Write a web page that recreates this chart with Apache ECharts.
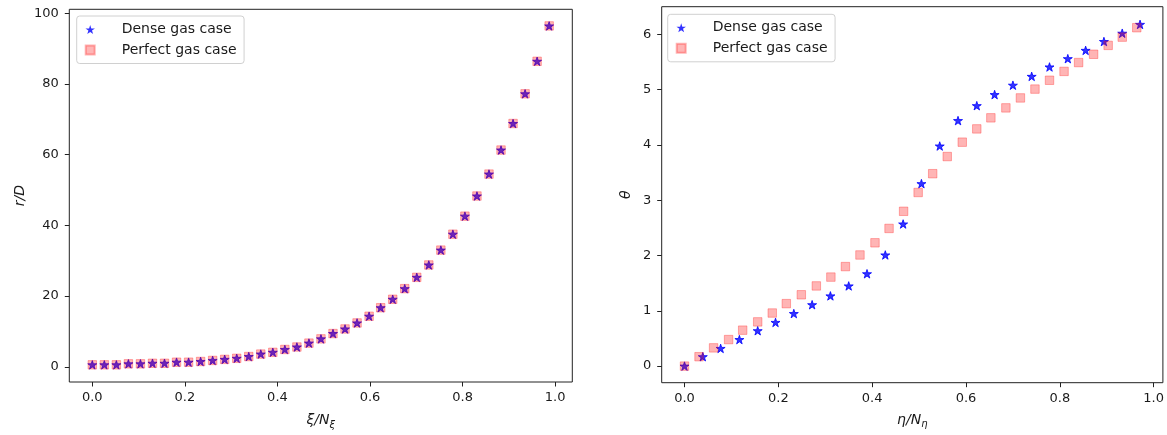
<!DOCTYPE html>
<html>
<head>
<meta charset="utf-8">
<script src="https://cdn.jsdelivr.net/npm/echarts@6/dist/echarts.min.js"></script>
<style>
  html, body { margin: 0; padding: 0; background: #fff; }
  #chart { width: 1167px; height: 435px; }
</style>
</head>
<body>
<div id="chart"></div>
<script>
// Radial coordinate along the grid index (left panel)
const xiValues = [0.000, 0.026, 0.052, 0.078, 0.104, 0.130, 0.156, 0.182, 0.208, 0.234,
  0.260, 0.286, 0.312, 0.338, 0.364, 0.390, 0.416, 0.442, 0.468, 0.494,
  0.520, 0.546, 0.572, 0.598, 0.623, 0.649, 0.675, 0.701, 0.727, 0.753,
  0.779, 0.805, 0.831, 0.857, 0.883, 0.909, 0.935, 0.961, 0.987];
const rDense = [0.56, 0.56, 0.56, 0.84, 0.84, 1.0, 1.0, 1.3, 1.3, 1.5,
  1.8, 2.1, 2.4, 2.9, 3.6, 4.1, 4.9, 5.6, 6.7, 7.9,
  9.4, 10.7, 12.4, 14.3, 16.7, 19.1, 22.1, 25.3, 28.8, 33.0,
  37.5, 42.6, 48.3, 54.5, 61.3, 68.8, 77.2, 86.4, 96.4];
const rPerfect = [0.56, 0.56, 0.56, 0.84, 0.84, 1.0, 1.0, 1.3, 1.3, 1.5,
  1.8, 2.1, 2.4, 2.9, 3.6, 4.1, 4.9, 5.6, 6.7, 7.9,
  9.4, 10.7, 12.4, 14.3, 16.7, 19.1, 22.1, 25.3, 28.8, 33.0,
  37.5, 42.6, 48.3, 54.5, 61.3, 68.8, 77.2, 86.4, 96.4];

// Angular coordinate along the grid index (right panel)
const etaDense = [0.000, 0.039, 0.077, 0.117, 0.156, 0.194, 0.233, 0.272, 0.311, 0.350,
  0.389, 0.428, 0.466, 0.505, 0.544, 0.583, 0.623, 0.661, 0.700, 0.740,
  0.778, 0.817, 0.855, 0.894, 0.933, 0.971];
const thetaDense = [0.00, 0.17, 0.32, 0.48, 0.64, 0.79, 0.95, 1.11, 1.27, 1.45,
  1.67, 2.01, 2.57, 3.30, 3.98, 4.44, 4.71, 4.91, 5.08, 5.24,
  5.41, 5.56, 5.71, 5.87, 6.02, 6.18];
const etaPerfect = [0.000, 0.031, 0.062, 0.094, 0.124, 0.156, 0.187, 0.217, 0.249, 0.281,
  0.312, 0.343, 0.374, 0.406, 0.436, 0.467, 0.498, 0.529, 0.560, 0.592,
  0.623, 0.653, 0.685, 0.716, 0.747, 0.778, 0.809, 0.840, 0.872, 0.903,
  0.933, 0.964];
const thetaPerfect = [0.00, 0.17, 0.33, 0.48, 0.65, 0.80, 0.96, 1.13, 1.29, 1.45,
  1.61, 1.80, 2.01, 2.23, 2.49, 2.80, 3.14, 3.48, 3.79, 4.05,
  4.29, 4.49, 4.67, 4.85, 5.01, 5.17, 5.33, 5.49, 5.64, 5.80,
  5.95, 6.12];

// Tick labels
const fracTicks = [0.0, 0.2, 0.4, 0.6, 0.8, 1.0];
const rTicks = [0, 20, 40, 60, 80, 100];
const thetaTicks = [0, 1, 2, 3, 4, 5, 6];

const seriesNames = ['Dense gas case', 'Perfect gas case'];

const pair = (xs, ys) => xs.map((x, i) => [x, ys[i]]);

const FONT = 'DejaVu Sans';
const INK = '#1a1a1a';
const STAR = 'path://M100,0L122.45,69.1L195.1,69.1L136.3,111.8L158.8,180.9L100,138.2L41.2,180.9L63.7,111.8L4.9,69.1L77.55,69.1Z';
const SQUARE = 'path://M0,0L10,0L10,10L0,10Z';

const starStyle = { color: '#0000ff', borderColor: '#0000ff', borderWidth: 1 };
const squareStyle = { color: 'rgba(255,0,0,0.36)', borderColor: 'rgba(255,0,0,0.36)', borderWidth: 1 };

function valueAxis(gridIndex, min, max, ticks, fmt, name, nameGap, isX) {
  return {
    type: 'value',
    gridIndex,
    min, max,
    name,
    nameLocation: 'middle',
    nameGap,
    nameRotate: isX ? 0 : 90,
    nameTextStyle: {
      fontFamily: FONT, fontSize: 14, fontStyle: 'italic', color: INK,
      rich: {
        a: { fontFamily: FONT, fontSize: 14, fontStyle: 'italic', color: INK },
        b: { fontFamily: FONT, fontSize: 10, fontStyle: 'italic', color: INK, padding: [9, 0, 0, 0] }
      }
    },
    axisLine: { show: false, onZero: false },
    splitLine: { show: false },
    axisTick: {
      show: true, inside: false, length: 4.5,
      customValues: ticks,
      lineStyle: { color: '#222', width: 1 }
    },
    axisLabel: {
      show: true,
      customValues: ticks,
      formatter: fmt,
      fontFamily: FONT,
      fontSize: 13,
      color: INK,
      margin: isX ? 9 : 10.5
    }
  };
}

// Legend frame with marker icons (its own labels are kept invisible and only reserve space)
function legendFrame(left, top) {
  return {
    left, top,
    orient: 'vertical',
    data: [
      { name: seriesNames[0], icon: STAR, itemStyle: { borderWidth: 0 } },
      { name: seriesNames[1], icon: SQUARE }
    ],
    itemWidth: 24,
    itemHeight: 9,
    itemGap: 6.5,
    padding: [6.5, 22, 6.5, 8],
    backgroundColor: 'rgba(255,255,255,0.8)',
    borderColor: '#d0d0d0',
    borderWidth: 1,
    borderRadius: 3,
    selectedMode: false,
    z: 4,
    textStyle: { fontFamily: FONT, fontSize: 14, color: 'rgba(0,0,0,0)', lineHeight: 14 }
  };
}

// Legend labels, set a little further from the markers
function legendText(left, top) {
  return {
    left, top,
    orient: 'vertical',
    data: [
      { name: seriesNames[0], icon: 'none' },
      { name: seriesNames[1], icon: 'none' }
    ],
    itemWidth: 0,
    itemHeight: 0,
    itemGap: 6.5,
    padding: 0,
    selectedMode: false,
    z: 5,
    textStyle: { fontFamily: FONT, fontSize: 14, color: INK, lineHeight: 14 }
  };
}

const chart = echarts.init(document.getElementById('chart'), null, { renderer: 'canvas' });

chart.setOption({
  animation: false,
  backgroundColor: '#ffffff',
  grid: [
    { left: 69.3, right: 594.7, top: 9.3, bottom: 51, show: true, borderColor: '#222', borderWidth: 1, backgroundColor: 'transparent' },
    { left: 661.7, right: 2, top: 6.7, bottom: 52.3, show: true, borderColor: '#222', borderWidth: 1, backgroundColor: 'transparent' }
  ],
  legend: [
    legendFrame(76.7, 16), legendText(116.7, 22.5),
    legendFrame(667.7, 14.3), legendText(707.7, 20.8)
  ],
  xAxis: [
    valueAxis(0, -0.0497, 1.037, fracTicks, v => v.toFixed(1), '{a|ξ/N}{b|ξ}', 29, true),
    valueAxis(1, -0.0486, 1.0197, fracTicks, v => v.toFixed(1), '{a|η/N}{b|η}', 28, true)
  ],
  yAxis: [
    valueAxis(0, -4.3, 101.1, rTicks, v => String(v), '{a|r/D}', 42, false),
    valueAxis(1, -0.30, 6.50, thetaTicks, v => String(v), '{a|θ}', 28, false)
  ],
  series: [
    { name: seriesNames[0], type: 'scatter', xAxisIndex: 0, yAxisIndex: 0, data: pair(xiValues, rDense),
      symbol: STAR, symbolSize: 9, symbolKeepAspect: true, itemStyle: starStyle, z: 2 },
    { name: seriesNames[1], type: 'scatter', xAxisIndex: 0, yAxisIndex: 0, data: pair(xiValues, rPerfect),
      symbol: 'rect', symbolSize: 8.5, itemStyle: squareStyle, z: 3 },
    { name: seriesNames[0], type: 'scatter', xAxisIndex: 1, yAxisIndex: 1, data: pair(etaDense, thetaDense),
      symbol: STAR, symbolSize: 9, symbolKeepAspect: true, itemStyle: starStyle, z: 2 },
    { name: seriesNames[1], type: 'scatter', xAxisIndex: 1, yAxisIndex: 1, data: pair(etaPerfect, thetaPerfect),
      symbol: 'rect', symbolSize: 8.5, itemStyle: squareStyle, z: 3 }
  ]
});
</script>
</body>
</html>
